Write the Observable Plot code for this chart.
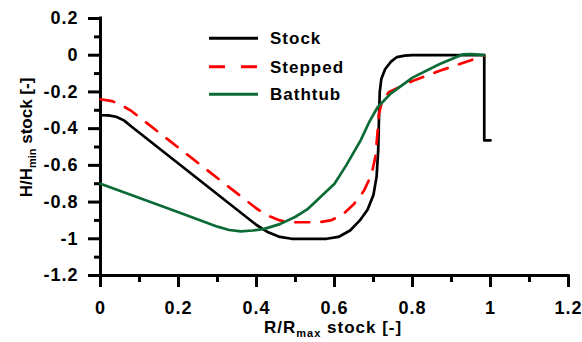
<!DOCTYPE html>
<html>
<head>
<meta charset="utf-8">
<script src="https://cdn.jsdelivr.net/npm/d3@7"></script>
<script src="https://cdn.jsdelivr.net/npm/@observablehq/plot@0.6"></script>
<style>
  html, body { margin: 0; padding: 0; background: #fff; }
  #chart svg text {
    font-family: 'Liberation Sans', Arial, sans-serif;
    font-size: 17px;
    font-weight: bold;
    letter-spacing: 1px;
    fill: #000;
  }
  #chart svg g[aria-label$="tick label"] text {
    font-size: 18px;
  }
</style>
</head>
<body>
<div id="chart"></div>
<script>
// ---- data ----
const stockX = [0, 0.02, 0.04, 0.06, 0.08, 0.40, 0.43, 0.46, 0.49, 0.58, 0.61, 0.64, 0.665, 0.685, 0.70, 0.708, 0.712, 0.714, 0.716, 0.72, 0.73, 0.745, 0.76, 0.78, 0.80, 0.984, 0.984, 1.0];
const stockY = [-0.327, -0.328, -0.335, -0.355, -0.39, -0.925, -0.965, -0.99, -1.0, -1.0, -0.99, -0.955, -0.9, -0.84, -0.76, -0.66, -0.52, -0.35, -0.2, -0.13, -0.075, -0.035, -0.01, -0.002, 0, 0, -0.464, -0.464];

const steppedX = [0, 0.03, 0.06, 0.08, 0.40, 0.43, 0.46, 0.49, 0.56, 0.59, 0.62, 0.65, 0.675, 0.695, 0.705, 0.71, 0.714, 0.722, 0.74, 0.77, 0.80, 0.87, 0.95, 0.984];
const steppedY = [-0.24, -0.25, -0.28, -0.305, -0.835, -0.875, -0.9, -0.91, -0.91, -0.9, -0.87, -0.81, -0.74, -0.65, -0.55, -0.43, -0.32, -0.25, -0.2, -0.17, -0.14, -0.085, -0.027, 0];

const bathtubX = [0, 0.1, 0.2, 0.3, 0.33, 0.36, 0.39, 0.42, 0.46, 0.5, 0.53, 0.56, 0.6, 0.63, 0.667, 0.69, 0.71, 0.744, 0.8, 0.87, 0.93, 0.95, 0.984];
const bathtubY = [-0.70, -0.778, -0.856, -0.934, -0.952, -0.96, -0.955, -0.946, -0.92, -0.88, -0.84, -0.78, -0.70, -0.60, -0.464, -0.36, -0.285, -0.209, -0.122, -0.048, 0.005, 0.006, 0];

const seriesNames = ["Stock", "Stepped", "Bathtub"];
const seriesColors = ["#000000", "#ff0000", "#0b6b36"];

const xTicks = [0, 0.2, 0.4, 0.6, 0.8, 1, 1.2];
const yTicks = [-1.2, -1, -0.8, -0.6, -0.4, -0.2, 0, 0.2];
const xMinor = [0.1, 0.3, 0.5, 0.7, 0.9, 1.1];
const yMinor = [-1.1, -0.9, -0.7, -0.5, -0.3, -0.1, 0.1];

const toRows = (xs, ys) => xs.map((x, i) => ({x, y: ys[i]}));
const stock = toRows(stockX, stockY);
const stepped = toRows(steppedX, steppedY);
const bathtub = toRows(bathtubX, bathtubY);

const fmt = d => String(+(+d).toFixed(1));

const chart = Plot.plot({
  width: 582,
  height: 342,
  marginLeft: 100,
  marginRight: 14,
  marginTop: 18,
  marginBottom: 67,
  x: {domain: [0, 1.2]},
  y: {domain: [-1.2, 0.2]},
  style: {
    background: "#fff",
    color: "#000",
    overflow: "visible"
  },
  marks: [
    Plot.axisX(xMinor, {tickSize: 7, tickFormat: () => "", label: null, strokeWidth: 3}),
    Plot.axisY(yMinor, {tickSize: 6, tickFormat: () => "", label: null, strokeWidth: 3}),
    Plot.axisX(xTicks, {tickSize: 12, tickPadding: 14, tickFormat: fmt, label: null, strokeWidth: 3}),
    Plot.axisY(yTicks, {tickSize: 12, tickPadding: 10, tickFormat: fmt, label: null, strokeWidth: 3}),
    Plot.ruleX([0], {y1: -1.2, y2: 0.2, strokeWidth: 3, strokeLinecap: "square"}),
    Plot.ruleY([-1.2], {x1: 0, x2: 1.2, strokeWidth: 3, strokeLinecap: "square"}),
    Plot.line(stock, {x: "x", y: "y", stroke: seriesColors[0], strokeWidth: 2.7}),
    Plot.line(stepped, {x: "x", y: "y", stroke: seriesColors[1], strokeWidth: 2.7, strokeDasharray: "14,12"}),
    Plot.line(bathtub, {x: "x", y: "y", stroke: seriesColors[2], strokeWidth: 2.7})
  ]
});

document.getElementById("chart").appendChild(chart);

// ---- axis titles and legend ----
const svg = d3.select(chart);

const xt = svg.append("text")
  .attr("x", 264).attr("y", 333)
  .attr("text-anchor", "start");
xt.append("tspan").text("R/R");
xt.append("tspan").style("font-size", "11px").attr("dy", 4).text("max");
xt.append("tspan").attr("dy", -4).text(" stock [-]");

const yt = svg.append("text")
  .attr("transform", "translate(32,137.5) rotate(-90)")
  .attr("text-anchor", "middle")
  .style("letter-spacing", "0px");
yt.append("tspan").text("H/H");
yt.append("tspan").style("font-size", "11px").attr("dy", 4).text("min");
yt.append("tspan").attr("dy", -4).text(" stock [-]");

const legendRowsY = [38.3, 66.7, 94.3];
const legendDash = [null, "16,16", null];
const lg = svg.append("g");
seriesNames.forEach((name, i) => {
  lg.append("line")
    .attr("x1", 209).attr("x2", 258)
    .attr("y1", legendRowsY[i]).attr("y2", legendRowsY[i])
    .attr("stroke", seriesColors[i]).attr("stroke-width", 3)
    .attr("stroke-dasharray", legendDash[i]);
  lg.append("text")
    .attr("x", 270).attr("y", legendRowsY[i])
    .attr("dy", "0.36em")
    .attr("text-anchor", "start")
    .text(name);
});
</script>
</body>
</html>
